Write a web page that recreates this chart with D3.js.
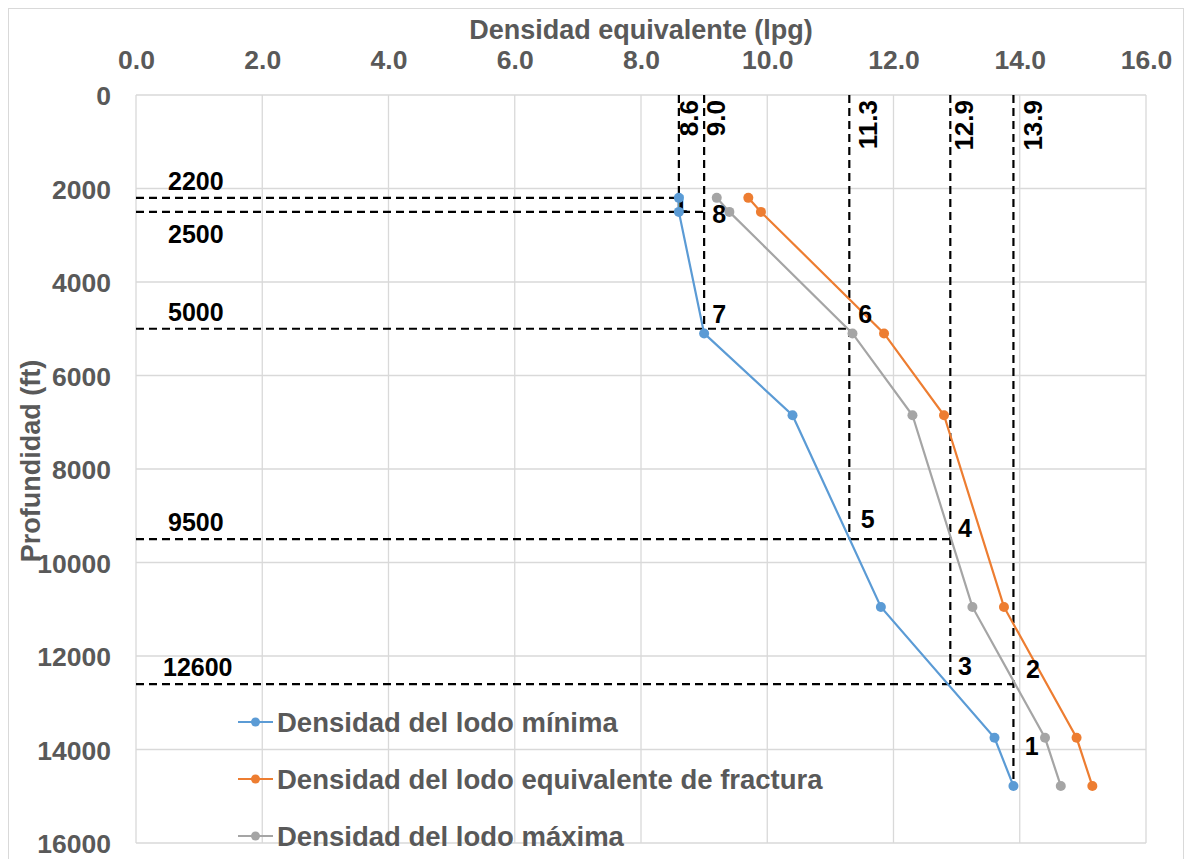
<!DOCTYPE html>
<html>
<head>
<meta charset="utf-8">
<script src="https://cdn.jsdelivr.net/npm/d3@7"></script>
<style>
  body { margin: 0; background: #fff; }
  text { font-family: "Liberation Sans", Arial, sans-serif; font-weight: bold; }
</style>
</head>
<body>
<svg id="chart" width="1187" height="859"></svg>
<script>
// ---- Data ----
const depths   = [2200, 2500, 5100, 6850, 10950, 13750, 14780];
const minima   = [8.6, 8.6, 9.0, 10.4, 11.8, 13.6, 13.9];
const fractura = [9.7, 9.9, 11.85, 12.8, 13.75, 14.9, 15.15];
const maxima   = [9.2, 9.4, 11.35, 12.3, 13.25, 14.4, 14.65];
const seriesNames = ["Densidad del lodo mínima", "Densidad del lodo equivalente de fractura", "Densidad del lodo máxima"];

const xTicks = [0, 2, 4, 6, 8, 10, 12, 14, 16];
const yTicks = [0, 2000, 4000, 6000, 8000, 10000, 12000, 14000, 16000];

// vertical reference lines: density, depth where line ends, label
const refDensities = [8.6, 9.0, 11.3, 12.9, 13.9];
const refDensityEnds = [2500, 5000, 9500, 12600, 14780];
const refDensityLabels = ["8.6", "9.0", "11.3", "12.9", "13.9"];
// horizontal reference lines: depth, density where line ends, label
const refDepths = [2200, 2500, 5000, 9500, 12600];
const refDepthEnds = [8.6, 9.0, 11.3, 12.9, 13.9];
const refDepthLabels = ["2200", "2500", "5000", "9500", "12600"];
const refDepthLabelBelow = [false, true, false, false, false];
// numbered points: label, density, depth (text position)
const ptLabels = ["1", "8", "7", "6", "5", "4", "3", "2", "1"];
const ptDensity = [8.52, 9.13, 9.13, 11.44, 11.48, 13.02, 13.02, 14.1, 14.08];
const ptDepth = [2524, 2738, 4877, 4877, 9262, 9455, 12406, 12470, 14118];

(function () {
const svg = d3.select("#chart");
const pLeft = 136, pRight = 1146, pTop = 95, pBottom = 843;
const colors = ["#5B9BD5", "#ED7D31", "#A5A5A5"];
const textGray = "#595959";
const gridColor = "#D9D9D9";
const vLabelDx = [19, 21, 28, 23, 29];

svg.append("rect").attr("x", 8.5).attr("y", 8.5).attr("width", 1175).attr("height", 870)
  .attr("fill", "#fff").attr("stroke", gridColor).attr("stroke-width", 1);

const x = d3.scaleLinear().domain([0, 16]).range([pLeft, pRight]);
const y = d3.scaleLinear().domain([0, 16000]).range([pTop, pBottom]);

// gridlines
const g = svg.append("g");
g.selectAll(".vg").data(xTicks).join("line")
  .attr("x1", d => x(d)).attr("x2", d => x(d)).attr("y1", pTop).attr("y2", pBottom)
  .attr("stroke", gridColor).attr("stroke-width", 1.3);
g.selectAll(".hg").data(yTicks).join("line")
  .attr("y1", d => y(d)).attr("y2", d => y(d)).attr("x1", pLeft).attr("x2", pRight)
  .attr("stroke", gridColor).attr("stroke-width", 1.3);

// axes (top x, left y)
const xAxis = svg.append("g").attr("transform", `translate(0,${pTop - 23})`)
  .call(d3.axisTop(x).tickValues(xTicks).tickFormat(d3.format(".1f")).tickSize(0));
xAxis.select(".domain").remove();
xAxis.selectAll("text").attr("fill", textGray).attr("font-size", 26.5).attr("dy", 0);

const yAxis = svg.append("g").attr("transform", `translate(${pLeft - 25},0)`)
  .call(d3.axisLeft(y).tickValues(yTicks).tickFormat(d3.format("d")).tickSize(0));
yAxis.select(".domain").remove();
yAxis.selectAll("text").attr("fill", textGray).attr("font-size", 26.5).attr("x", 0).attr("dy", "0.36em");
xAxis.attr("font-family", null).attr("font-size", null);
yAxis.attr("font-family", null).attr("font-size", null);

// axis titles
svg.append("text").attr("x", (pLeft + pRight) / 2).attr("y", 39).attr("text-anchor", "middle")
  .attr("fill", textGray).attr("font-size", 27).text("Densidad equivalente (lpg)");
svg.append("text").attr("transform", `translate(40,${(pTop + pBottom) / 2 - 8}) rotate(-90)`)
  .attr("text-anchor", "middle").attr("fill", textGray).attr("font-size", 27).text("Profundidad (ft)");

// reference dashed lines
const dash = "8,5";
svg.selectAll(".vref").data(refDensities).join("line")
  .attr("x1", d => x(d)).attr("x2", d => x(d))
  .attr("y1", pTop).attr("y2", (d, i) => y(refDensityEnds[i]))
  .attr("stroke", "#000").attr("stroke-width", 2.2).attr("stroke-dasharray", dash);
svg.selectAll(".href").data(refDepths).join("line")
  .attr("y1", d => y(d)).attr("y2", d => y(d))
  .attr("x1", pLeft).attr("x2", (d, i) => x(refDepthEnds[i]))
  .attr("stroke", "#000").attr("stroke-width", 2.2).attr("stroke-dasharray", dash);

svg.selectAll(".vlab").data(refDensities).join("text")
  .attr("transform", (d, i) => `translate(${x(d) + vLabelDx[i]},${pTop + 5}) rotate(-90)`)
  .attr("text-anchor", "end").attr("font-size", 26).attr("fill", "#000")
  .text((d, i) => refDensityLabels[i]);
svg.selectAll(".hlab").data(refDepths).join("text")
  .attr("x", (d, i) => refDepthLabels[i].length > 4 ? 163 : 168)
  .attr("y", (d, i) => refDepthLabelBelow[i] ? y(d) + 31 : y(d) - 8)
  .attr("font-size", 25).attr("fill", "#000")
  .text((d, i) => refDepthLabels[i]);

// series
const series = [minima, fractura, maxima];
const line = d3.line().x(d => x(d[0])).y(d => y(d[1]));
[2, 1, 0].forEach(si => {
  const pts = series[si].map((v, i) => [v, depths[i]]);
  svg.append("path").datum(pts).attr("d", line).attr("fill", "none")
    .attr("stroke", colors[si]).attr("stroke-width", 2.2);
});

// point labels (under markers)
svg.selectAll(".plab").data(ptLabels).join("text")
  .attr("x", (d, i) => x(ptDensity[i])).attr("y", (d, i) => y(ptDepth[i]))
  .attr("font-size", 25).attr("fill", "#000").text(d => d);

[2, 1, 0].forEach(si => {
  svg.append("g").selectAll("circle").data(series[si]).join("circle")
    .attr("cx", d => x(d)).attr("cy", (d, i) => y(depths[i])).attr("r", 5)
    .attr("fill", colors[si]);
});

// legend
const legY = [722, 779, 836];
seriesNames.forEach((name, i) => {
  const lg = svg.append("g").attr("transform", `translate(238,${legY[i]})`);
  lg.append("line").attr("x1", 0).attr("x2", 35).attr("stroke", colors[i]).attr("stroke-width", 2.2);
  lg.append("circle").attr("cx", 17.5).attr("r", 4.5).attr("fill", colors[i]);
  lg.append("text").attr("x", 39).attr("dy", "0.36em").attr("font-size", 27.5)
    .attr("fill", textGray).text(name);
});
})();
</script>
</body>
</html>
